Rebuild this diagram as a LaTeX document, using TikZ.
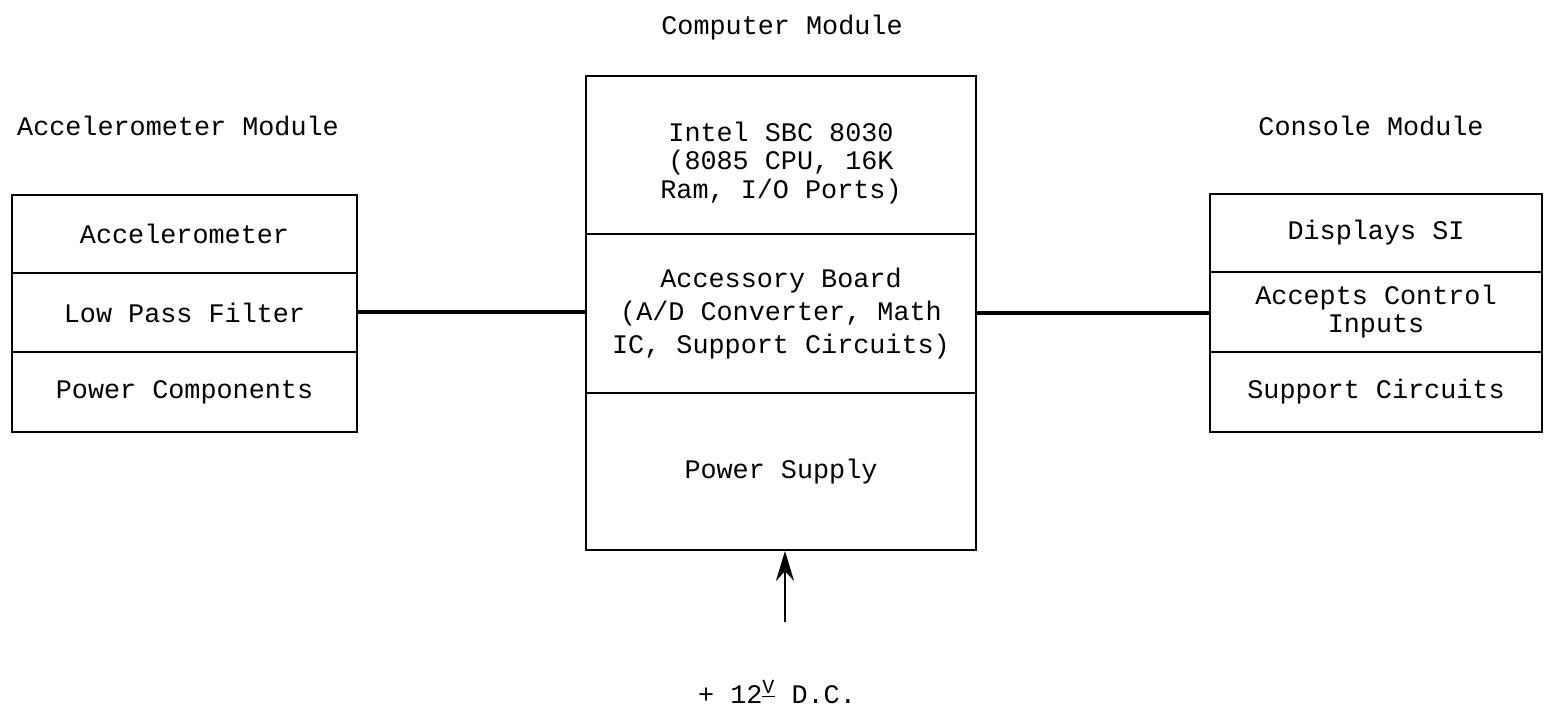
\documentclass[tikz,border=0pt]{standalone}
\usepackage{fontspec}
\setmonofont{Liberation Mono}
\usetikzlibrary{arrows.meta}
\begin{document}
\begin{tikzpicture}[x=0.5pt,y=-0.5pt,
  txt/.style={font=\ttfamily\fontsize{13.4}{13.5}\selectfont, align=center, inner sep=0pt},
  cell/.style={draw, line width=0.9pt, txt, anchor=center},
  conn/.style={line width=2pt},
  feed/.style={line width=1pt, -{Stealth[length=15pt,width=9pt]}}]
\useasboundingbox (0,0) rectangle (1544,711);
% left module
\node[cell, minimum width=172.5pt, minimum height=39pt] (accm) at (184.5,234) {Accelerometer};
\node[cell, minimum width=172.5pt, minimum height=39.5pt] (lpf) at (184.5,312.5) {Low Pass Filter};
\node[cell, minimum width=172.5pt, minimum height=40pt] (pwc) at (184.5,392) {Power Components};
% centre module
\node[cell, minimum width=195pt, minimum height=79pt,
  label={[txt, font=\ttfamily\fontsize{13.4}{14.2}\selectfont, yshift=-4pt]center:{Intel SBC 8030\\(8085 CPU, 16K\\Ram, I/O Ports)}}] (sbc) at (781,155) {};
\node[cell, minimum width=195pt, minimum height=79.5pt, font=\ttfamily\fontsize{13.4}{16.5}\selectfont] (acc) at (781,313.5) {Accessory Board\\(A/D Converter, Math\\IC, Support Circuits)};
\node[cell, minimum width=195pt, minimum height=78.5pt] (ps) at (781,471.5) {Power Supply};
% right module
\node[cell, minimum width=166pt, minimum height=39pt] (dsi) at (1376,233) {Displays SI};
\node[cell, minimum width=166pt, minimum height=40pt, font=\ttfamily\fontsize{13.4}{14}\selectfont] (aci) at (1376,312) {Accepts Control\\Inputs};
\node[cell, minimum width=166pt, minimum height=40pt] (sup) at (1376,392) {Support Circuits};
% titles
\node[txt] (tcm) at (782,28) {Computer Module};
\node[txt] (tam) at (178,126) {Accelerometer Module};
\node[txt] (tcon) at (1371,126) {Console Module};
% connectors
\draw[conn] (lpf.east) -- (lpf.east -| acc.west);
\draw[conn] (acc.east) -- (acc.east -| aci.west);
% power feed
\coordinate (src) at (785,622);
\draw[feed] (src) -- (src |- ps.south);
\node[txt] (dc) at (777,692) {+ 12$^{\underline{\mbox{\ttfamily\fontsize{10}{10}\selectfont V}}}$ D.C.};
\end{tikzpicture}
\end{document}
